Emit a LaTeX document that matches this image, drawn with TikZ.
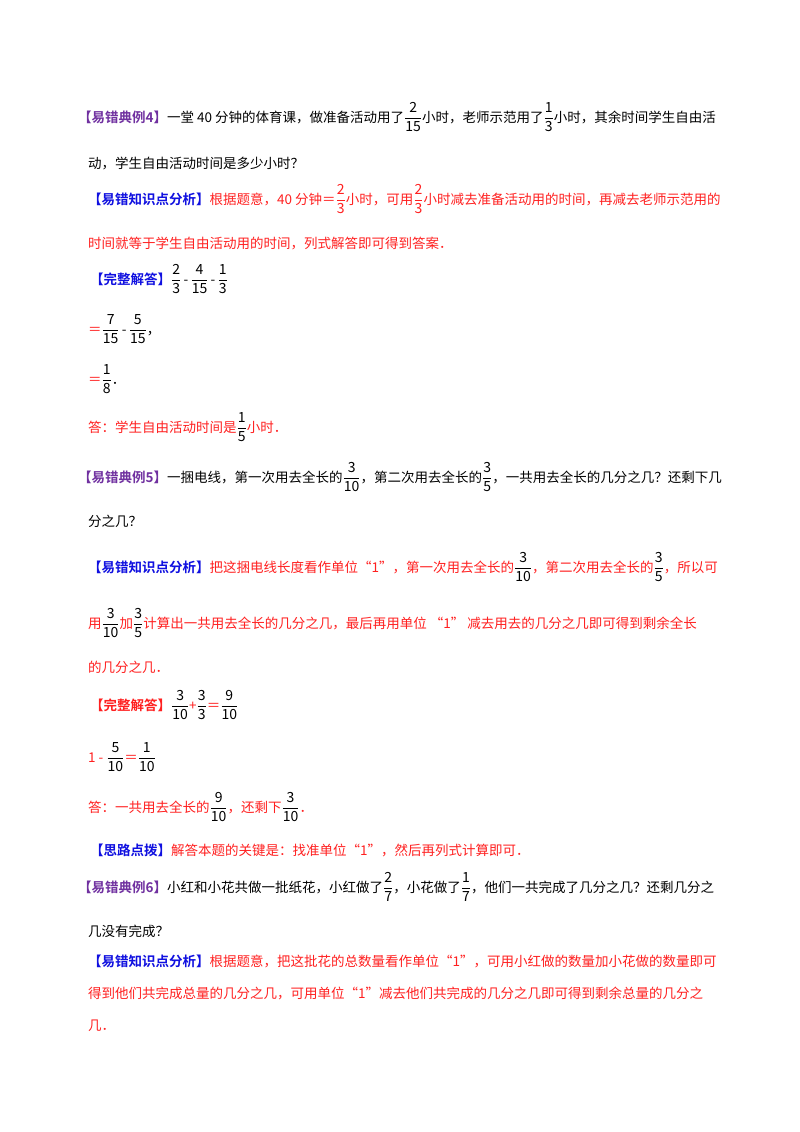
\documentclass[tikz,border=0pt]{standalone}
\usepackage{fontspec}
\setmainfont{Liberation Serif}
\newfontfamily\cjk{Noto Sans CJK SC}[BoldFont={Noto Sans CJK SC Bold}]
\definecolor{pur}{HTML}{7030A0}
\definecolor{blu}{HTML}{1010E0}
\definecolor{rd}{HTML}{FF2020}
\newcommand{\fr}[2]{$\displaystyle\frac{\mbox{\fontsize{14}{14}\selectfont #1}}{\mbox{\fontsize{14}{14}\selectfont #2}}$}
\newcommand{\lab}[2]{\textcolor{#1}{\bfseries #2}}
\tikzset{ln/.style={anchor=base west,inner sep=0pt,font=\cjk\fontsize{13.5}{16}\selectfont}}
\begin{document}
\begin{tikzpicture}[x=1pt,y=-1pt]
\useasboundingbox[fill=white] (0,0) rectangle (800,1132);
\node[ln] (a1) at (78,122) {\lab{pur}{【易错典例4】}一堂 40 分钟的体育课，做准备活动用了\fr{2}{15}小时，老师示范用了\fr{1}{3}小时，其余时间学生自由活};
\node[ln] (a2) at (88,168) {动，学生自由活动时间是多少小时？};
\node[ln] (a3) at (88,204) {\lab{blu}{【易错知识点分析】}\textcolor{rd}{根据题意，40 分钟＝\fr{2}{3}小时，可用\fr{2}{3}小时减去准备活动用的时间，再减去老师示范用的}};
\node[ln,text=rd] (a4) at (88,248) {时间就等于学生自由活动用的时间，列式解答即可得到答案．};
\node[ln] (a5) at (90,284) {\lab{blu}{【完整解答】}\fr{2}{3}\,-\,\fr{4}{15}\,-\,\fr{1}{3}};
\node[ln] (a6) at (88,334) {\textcolor{rd}{＝}\fr{7}{15}\,-\,\fr{5}{15}，};
\node[ln] (a7) at (88,384) {\textcolor{rd}{＝}\fr{1}{8}．};
\node[ln] (a8) at (88,432) {\textcolor{rd}{答：学生自由活动时间是}\fr{1}{5}\textcolor{rd}{小时．}};
\node[ln] (b1) at (78,482) {\lab{pur}{【易错典例5】}一捆电线，第一次用去全长的\fr{3}{10}，第二次用去全长的\fr{3}{5}，一共用去全长的几分之几？还剩下几};
\node[ln] (b2) at (88,526) {分之几？};
\node[ln] (b3) at (88,572) {\lab{blu}{【易错知识点分析】}\textcolor{rd}{把这捆电线长度看作单位“1”，第一次用去全长的}\fr{3}{10}\textcolor{rd}{，第二次用去全长的}\fr{3}{5}\textcolor{rd}{，所以可}};
\node[ln] (b4) at (88,628) {\textcolor{rd}{用}\fr{3}{10}\textcolor{rd}{加}\fr{3}{5}\textcolor{rd}{计算出一共用去全长的几分之几，最后再用单位 “1” 减去用去的几分之几即可得到剩余全长}};
\node[ln,text=rd] (b5) at (88,672) {的几分之几．};
\node[ln] (b6) at (90,710) {\lab{rd}{【完整解答】}\fr{3}{10}\textcolor{rd}{+}\fr{3}{3}\textcolor{rd}{＝}\fr{9}{10}};
\node[ln] (b7) at (88,762) {\textcolor{rd}{1 - }\fr{5}{10}\textcolor{rd}{＝}\fr{1}{10}};
\node[ln] (b8) at (88,812) {\textcolor{rd}{答：一共用去全长的}\fr{9}{10}\textcolor{rd}{，还剩下}\fr{3}{10}\textcolor{rd}{．}};
\node[ln] (b9) at (90,855) {\lab{blu}{【思路点拨】}\textcolor{rd}{解答本题的关键是：找准单位“1”，然后再列式计算即可．}};
\node[ln] (c1) at (78,892) {\lab{pur}{【易错典例6】}小红和小花共做一批纸花，小红做了\fr{2}{7}，小花做了\fr{1}{7}，他们一共完成了几分之几？还剩几分之};
\node[ln] (c2) at (88,936) {几没有完成？};
\node[ln] (c3) at (88,966) {\lab{blu}{【易错知识点分析】}\textcolor{rd}{根据题意，把这批花的总数量看作单位“1”，可用小红做的数量加小花做的数量即可}};
\node[ln,text=rd] (c4) at (88,998) {得到他们共完成总量的几分之几，可用单位“1”减去他们共完成的几分之几即可得到剩余总量的几分之};
\node[ln,text=rd] (c5) at (88,1030) {几．};
\end{tikzpicture}
\end{document}
